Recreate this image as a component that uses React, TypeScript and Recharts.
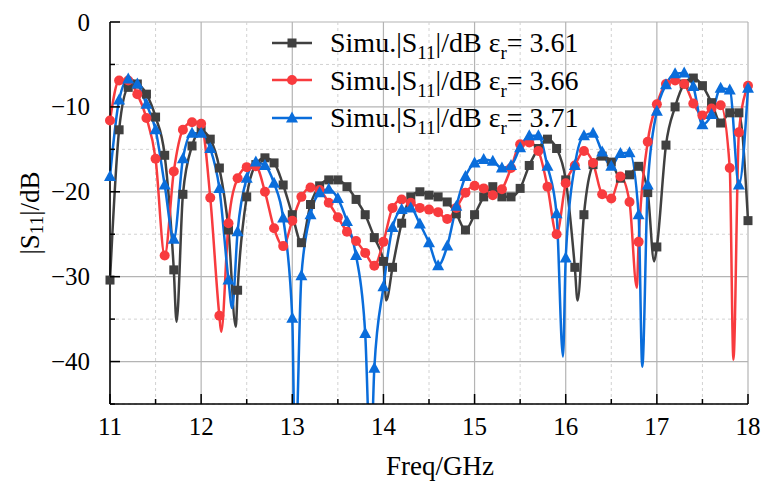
import { CartesianGrid, Line, LineChart, XAxis, YAxis } from "recharts";

// frequency grid of the marked points (GHz)
const FREQ = [
	11.0, 11.1, 11.2, 11.3, 11.4, 11.5, 11.6, 11.7, 11.8, 11.9,
	12.0, 12.1, 12.2, 12.3, 12.4, 12.5, 12.6, 12.7, 12.8, 12.9,
	13.0, 13.1, 13.2, 13.3, 13.4, 13.5, 13.6, 13.7, 13.8, 13.9,
	14.0, 14.1, 14.2, 14.3, 14.4, 14.5, 14.6, 14.7, 14.8, 14.9,
	15.0, 15.1, 15.2, 15.3, 15.4, 15.5, 15.6, 15.7, 15.8, 15.9,
	16.0, 16.1, 16.2, 16.3, 16.4, 16.5, 16.6, 16.7, 16.8, 16.9,
	17.0, 17.1, 17.2, 17.3, 17.4, 17.5, 17.6, 17.7, 17.8, 17.9, 18.0,
];

// |S11| in dB, er = 3.61
const S11_361 = [
	-30.4, -12.7, -7.7, -7.3, -8.5, -11.2, -15.7, -29.2, -20.3, -14.6,
	-12.8, -13.8, -17.2, -24.5, -31.6, -20.6, -16.8, -16.0, -16.6, -19.2,
	-22.7, -26.0, -21.5, -19.3, -18.6, -18.6, -19.4, -20.9, -22.7, -25.4,
	-28.2, -28.9, -23.7, -20.6, -20.0, -20.4, -20.6, -21.2, -22.6, -24.5,
	-22.7, -20.6, -19.4, -20.6, -20.6, -19.6, -16.9, -14.9, -13.8, -14.9,
	-18.6, -28.9, -22.7, -16.8, -15.8, -16.5, -18.4, -18.0, -17.0, -20.1,
	-26.5, -14.5, -10.0, -7.3, -6.6, -7.5, -9.5, -11.9, -10.7, -10.7, -23.4,
];

// er = 3.66
const S11_366 = [
	-11.6, -6.9, -6.9, -8.5, -11.3, -16.1, -27.5, -17.6, -12.7, -11.8,
	-12.0, -20.7, -34.6, -23.7, -18.4, -17.1, -17.0, -20.0, -24.3, -26.4,
	-23.4, -20.6, -19.5, -19.8, -21.3, -23.0, -24.7, -25.8, -27.2, -28.7,
	-25.9, -21.9, -20.9, -21.3, -21.9, -22.1, -22.4, -23.2, -21.9, -20.1,
	-19.3, -19.6, -20.4, -19.7, -17.2, -14.4, -14.2, -15.2, -19.4, -25.0,
	-19.0, -16.9, -15.2, -16.6, -20.3, -20.8, -18.2, -21.2, -25.9, -14.1,
	-9.7, -7.3, -6.9, -7.3, -9.6, -11.0, -10.2, -9.8, -17.2, -13.0, -7.5,
];

// er = 3.71
const S11_371 = [
	-18.2, -9.2, -6.7, -7.3, -9.7, -12.7, -19.2, -25.6, -16.1, -13.1,
	-13.1, -14.9, -19.6, -30.4, -24.7, -18.4, -16.5, -16.9, -19.0, -23.1,
	-34.9, -29.9, -22.7, -20.1, -19.7, -20.8, -23.5, -27.5, -36.7, -40.8,
	-31.2, -24.2, -22.1, -21.9, -23.8, -26.0, -28.7, -26.4, -21.7, -18.2,
	-16.6, -16.2, -16.4, -17.2, -16.9, -14.8, -13.4, -13.4, -17.0, -22.6,
	-27.8, -16.9, -13.4, -13.1, -15.3, -17.0, -15.5, -15.4, -22.7, -19.2,
	-10.5, -7.4, -6.1, -6.0, -7.6, -12.1, -10.9, -7.8, -8.0, -19.2, -7.8,
];

// resonance dips between markers [GHz, dB]
const DIPS_361 = [[11.73, -35.3], [12.38, -35.9], [14.03, -32.8], [16.13, -32.8], [16.97, -28.2]];
const DIPS_366 = [[12.22, -36.5], [16.78, -31.3], [17.84, -39.8]];
const DIPS_371 = [[12.34, -33.7], [13.03, -52], [13.86, -52], [15.97, -39.4], [16.84, -40.6]];

const X_TICKS = [11, 11.5, 12, 12.5, 13, 13.5, 14, 14.5, 15, 15.5, 16, 16.5, 17, 17.5, 18];
const Y_TICKS = [-45, -40, -35, -30, -25, -20, -15, -10, -5, 0];
const X_MAJOR = [11, 12, 13, 14, 15, 16, 17, 18];
const X_MINOR = [11.5, 12.5, 13.5, 14.5, 15.5, 16.5, 17.5];
const Y_MAJOR = [-40, -30, -20, -10, 0];
const Y_MINOR = [-45, -35, -25, -15, -5];

const BLACK = "#404040";
const RED = "#F83B3E";
const BLUE = "#0A6DDB";
const FONT = "'Liberation Serif', 'Times New Roman', serif";

function build(values: number[], dips: number[][]) {
	const rows = FREQ.map((f, i) => ({ f, v: values[i], m: true }));
	dips.forEach(([f, v]) => rows.push({ f, v, m: false }));
	return rows.sort((a, b) => a.f - b.f);
}

const data361 = build(S11_361, DIPS_361);
const data366 = build(S11_366, DIPS_366);
const data371 = build(S11_371, DIPS_371);

function Marker({ shape, cx, cy, color }: any) {
	if (shape === "square") return <rect x={cx - 4.5} y={cy - 4.5} width={9} height={9} fill={color} />;
	if (shape === "circle") return <circle cx={cx} cy={cy} r={5} fill={color} />;
	return <polygon points={`${cx},${cy - 6.5} ${cx - 6},${cy + 4.5} ${cx + 6},${cy + 4.5}`} fill={color} />;
}

const dotFor = (shape: string, color: string) => (props: any) => {
	const { cx, cy, payload, index } = props;
	if (!payload.m) return <g key={`d${index}`} />;
	return (
		<g key={`d${index}`}>
			<Marker shape={shape} cx={cx} cy={cy} color={color} />
		</g>
	);
};

const XTick = (props: any) => {
	const { x, y, payload } = props;
	const major = Number.isInteger(payload.value);
	return (
		<g>
			<line x1={x} x2={x} y1={y} y2={y - (major ? 10 : 5)} stroke="#000" strokeWidth={1.5} />
			{major && (
				<text x={x} y={y + 22} textAnchor="middle" dominantBaseline="central" fill="#000" style={{ fontFamily: FONT, fontSize: 25 }}>
					{payload.value}
				</text>
			)}
		</g>
	);
};

const YTick = (props: any) => {
	const { x, y, payload } = props;
	const major = payload.value % 10 === 0;
	return (
		<g>
			<line x1={x} x2={x + (major ? 10 : 5)} y1={y} y2={y} stroke="#000" strokeWidth={1.5} />
			{major && (
				<text x={x - 20} y={y} textAnchor="end" dominantBaseline="central" fill="#000" style={{ fontFamily: FONT, fontSize: 25 }}>
					{payload.value < 0 ? `\u2212${-payload.value}` : payload.value}
				</text>
			)}
		</g>
	);
};

const SERIES = [
	{ label: "3.61", color: BLACK, shape: "square" },
	{ label: "3.66", color: RED, shape: "circle" },
	{ label: "3.71", color: BLUE, shape: "triangle" },
];

function LegendBox() {
	return (
		<div style={{ position: "absolute", left: 270, top: 24, fontFamily: FONT, fontSize: 28, color: "#000" }}>
			{SERIES.map(s => (
				<div key={s.label} style={{ display: "flex", alignItems: "center", height: 37.5, whiteSpace: "nowrap" }}>
					<svg width={44} height={20} style={{ marginRight: 16 }}>
						<line x1={2} x2={42} y1={10} y2={10} stroke={s.color} strokeWidth={2.5} />
						<Marker shape={s.shape} cx={22} cy={10} color={s.color} />
					</svg>
					<span style={{ lineHeight: "37.5px" }}>
						Simu.|S<sub style={{ fontSize: 19, lineHeight: 0 }}>11</sub>|/dB ε<sub style={{ fontSize: 19, lineHeight: 0 }}>r</sub>= {s.label}
					</span>
				</div>
			))}
		</div>
	);
}

export default function App() {
	return (
		<div style={{ position: "absolute", left: 0, top: 0, width: 765, height: 482, background: "#fff" }}>
			<LineChart width={765} height={482} margin={{ top: 22, right: 17, bottom: 0, left: 0 }}>
				<CartesianGrid stroke="#b4b4b4" strokeWidth={1.2} verticalValues={X_MAJOR} horizontalValues={Y_MAJOR} />
				<CartesianGrid stroke="#d2d2d2" strokeDasharray="3 3" verticalValues={X_MINOR} horizontalValues={Y_MINOR} />
				<XAxis
					dataKey="f"
					type="number"
					domain={[11, 18]}
					ticks={X_TICKS}
					interval={0}
					height={78}
					tickSize={0}
					tickMargin={0}
					tick={<XTick />}
					axisLine={{ stroke: "#000", strokeWidth: 1.5 }}
					label={{
						content: () => (
							<text x={440} y={466} textAnchor="middle" dominantBaseline="central" fill="#000" style={{ fontFamily: FONT, fontSize: 27 }}>
								Freq/GHz
							</text>
						),
					}}
				/>
				<XAxis xAxisId="top" orientation="top" type="number" domain={[11, 18]} height={0} tick={false} tickLine={false} axisLine={{ stroke: "#000", strokeWidth: 1.5 }} />
				<YAxis
					type="number"
					domain={[-45, 0]}
					ticks={Y_TICKS}
					interval={0}
					allowDataOverflow
					width={110}
					tickSize={0}
					tickMargin={0}
					tick={<YTick />}
					axisLine={{ stroke: "#000", strokeWidth: 1.5 }}
					label={{
						content: () => (
							<text x={30} y={213} transform="rotate(-90 30 213)" textAnchor="middle" dominantBaseline="central" fill="#000" style={{ fontFamily: FONT, fontSize: 27 }}>
								|S<tspan style={{ fontSize: 19 }} dy={6}>11</tspan>
								<tspan dy={-6}>|/dB</tspan>
							</text>
						),
					}}
				/>
				<YAxis yAxisId="right" orientation="right" domain={[-45, 0]} width={0} tick={false} tickLine={false} axisLine={{ stroke: "#000", strokeWidth: 1.5 }} />
				<Line data={data361} dataKey="v" type="monotone" stroke={BLACK} strokeWidth={2.5} dot={dotFor("square", BLACK)} activeDot={false} isAnimationActive={false} />
				<Line data={data366} dataKey="v" type="monotone" stroke={RED} strokeWidth={2.5} dot={dotFor("circle", RED)} activeDot={false} isAnimationActive={false} />
				<Line data={data371} dataKey="v" type="monotone" stroke={BLUE} strokeWidth={2.5} dot={dotFor("triangle", BLUE)} activeDot={false} isAnimationActive={false} />
			</LineChart>
			<LegendBox />
		</div>
	);
}
